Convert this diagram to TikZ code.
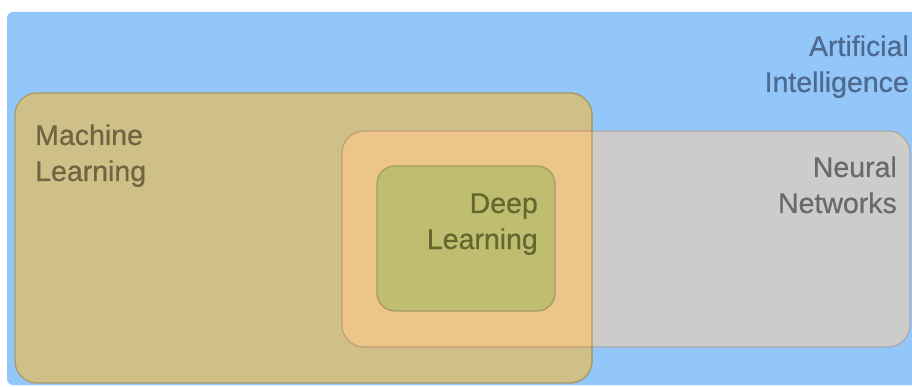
\documentclass[tikz,border=0pt]{standalone}
\usepackage{fontspec}
\setmainfont{Liberation Sans}[FakeBold=0.6]
\definecolor{aiblue}{HTML}{93C7F9}
\definecolor{mlfill}{HTML}{CEC087}
\definecolor{mledge}{HTML}{A89A6A}
\definecolor{nnfill}{HTML}{CDCCCB}
\definecolor{nnedge}{HTML}{A9AAAE}
\definecolor{ovfill}{HTML}{ECC58A}
\definecolor{ovedge}{HTML}{C8A070}
\definecolor{dlfill}{HTML}{BEBD70}
\definecolor{dledge}{HTML}{A49A5E}
\definecolor{aitext}{HTML}{4E6A90}
\definecolor{mltext}{HTML}{6E6642}
\definecolor{nntext}{HTML}{6A6A6A}
\definecolor{dltext}{HTML}{66662E}
\begin{document}
\begin{tikzpicture}[x=1pt,y=-1pt,
  box/.style={rounded corners=22pt},
  lbl/.style={font=\fontsize{28.5}{36}\selectfont, inner sep=0pt, align=right},
  lbll/.style={font=\fontsize{28.5}{36}\selectfont, inner sep=0pt, align=left}]
\useasboundingbox (0,0) rectangle (912,387);
\fill[white] (0,0) rectangle (912,387);
% AI background
\fill[aiblue, rounded corners=6pt] (7,12) rectangle (940,385);
\coordinate (ai) at (7,12);
% Machine learning
\path[box, fill=mlfill, draw=mledge, line width=1.2pt] (15,93) rectangle (592,383);
\coordinate (ml) at (15,93);
% Neural networks
\path[box, fill=nnfill, draw=nnedge, line width=1.2pt] (342,131) rectangle (910,347);
\coordinate (nn) at (342,131);
% overlap
\begin{scope}
  \clip[box] (15,93) rectangle (592,383);
  \path[box, fill=ovfill, draw=ovedge, line width=1.2pt] (342,131) rectangle (910,347);
\end{scope}
\draw[mledge, line width=1.2pt, rounded corners=22pt] (570,93) -- (592,93) -- (592,383) -- (570,383);
% Deep learning
\path[rounded corners=18pt, fill=dlfill, draw=dledge, line width=1.2pt] (377,166) rectangle (555,311);
\coordinate (dl) at (377,166);
% Labels (base = baseline of the last line)
\node[lbl, text=aitext, anchor=base east] (ailbl) at (909,92) {Artificial\\Intelligence};
\node[lbll, text=mltext, anchor=base west] (mllbl) at (35,181) {Machine\\Learning};
\node[lbl, text=nntext, anchor=base east] (nnlbl) at (897,213) {Neural\\Networks};
\node[lbl, text=dltext, anchor=base east] (dllbl) at (538,249) {Deep\\Learning};
\end{tikzpicture}
\end{document}
